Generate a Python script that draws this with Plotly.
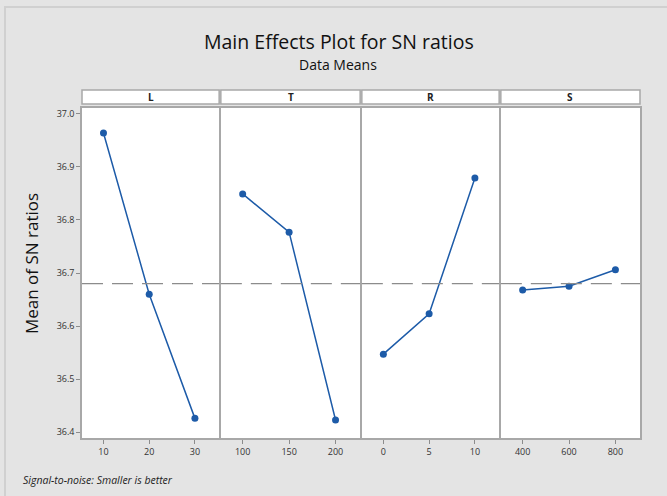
import plotly.graph_objects as go

factors = ["L", "T", "R", "S"]
levels = [["10", "20", "30"], ["100", "150", "200"], ["0", "5", "10"], ["400", "600", "800"]]
means = [
    [36.964, 36.660, 36.426],
    [36.849, 36.777, 36.423],
    [36.547, 36.623, 36.879],
    [36.668, 36.675, 36.706],
]
grand_mean = 36.680
y_ticks = [36.4, 36.5, 36.6, 36.7, 36.8, 36.9, 37.0]
y_ticktext = ["36.4", "36.5", "36.6", "36.7", "36.8", "36.9", "37.0"]

W, H = 667, 496
ml, mr, mt, mb = 82, 27, 90, 58
pw = W - ml - mr
ph = H - mt - mb
plot_top = (438 - 108) / ph
strip_bot = (438 - 104) / ph


def px_x(p):
    return (p - ml) / pw


def px_y(p):
    return (H - mb - p) / ph


blue = "#1d5ba8"
grid_grey = "#a8a8a8"
fig = go.Figure()
bounds = [0, 138 / pw, 279 / pw, 418 / pw, 1.0]

# outer frame (border only)
fig.add_shape(type="rect", xref="paper", yref="paper",
              x0=px_x(5), x1=px_x(675), y0=px_y(7), y1=px_y(505),
              line=dict(color="#d0d0d0", width=2), layer="below")

for i, f in enumerate(factors):
    ax = "" if i == 0 else str(i + 1)
    fig.add_trace(go.Scatter(
        x=levels[i], y=means[i], mode="lines+markers",
        line=dict(color=blue, width=1.5),
        marker=dict(color=blue, size=7),
        xaxis="x" + ax, yaxis="y" + ax, showlegend=False,
        hoverinfo="x+y",
    ))
    d0 = bounds[i] + (0.0015 if i > 0 else 0)
    d1 = bounds[i + 1] - (0.0015 if i < 3 else 0)
    fig.add_shape(type="line", xref="paper", yref="y" + ax,
                  x0=d0, x1=d1, y0=grand_mean, y1=grand_mean,
                  line=dict(color="#8c8c8c", width=1.2, dash="21px,9px"), layer="above")
    fig.layout["xaxis" + ax] = dict(
        domain=[d0, d1], anchor="y" + ax, type="category",
        categoryorder="array", categoryarray=levels[i],
        range=[-0.47, 2.53], showline=True, linecolor=grid_grey, linewidth=1.5,
        mirror=True, ticks="outside", ticklen=4, tickcolor="#8c8c8c",
        showgrid=False, zeroline=False,
        tickfont=dict(size=9, color="#333", family="Open Sans"),
        fixedrange=True,
    )
    fig.layout["yaxis" + ax] = dict(
        domain=[0, plot_top], anchor="x" + ax,
        range=[36.389, 37.011], tickvals=y_ticks, ticktext=y_ticktext,
        showticklabels=(i == 0), ticks="outside" if i == 0 else "",
        ticklen=4, tickcolor="#8c8c8c",
        showline=True, linecolor=grid_grey, linewidth=1.5, mirror=True,
        showgrid=False, zeroline=False,
        tickfont=dict(size=9, color="#333", family="Open Sans"),
        fixedrange=True,
    )
    fig.add_shape(type="rect", xref="paper", yref="paper",
                  x0=d0, x1=d1, y0=strip_bot, y1=1.0,
                  fillcolor="white", line=dict(color=grid_grey, width=1.5), layer="below")
    fig.add_annotation(text="<b>%s</b>" % f, xref="paper", yref="paper",
                       x=(d0 + d1) / 2, y=(strip_bot + 1.0) / 2, showarrow=False,
                       font=dict(size=10, color="#222", family="Open Sans"),
                       xanchor="center", yanchor="middle")

fig.add_annotation(text="Mean of SN ratios", xref="paper", yref="paper",
                   x=px_x(31), y=px_y(264), showarrow=False, textangle=-90,
                   font=dict(size=17, color="#111", family="Open Sans"),
                   xanchor="center", yanchor="middle")
fig.add_annotation(text="Main Effects Plot for SN ratios", xref="paper", yref="paper",
                   x=px_x(339), y=px_y(42), showarrow=False,
                   font=dict(size=19.5, color="#111", family="Open Sans"),
                   xanchor="center", yanchor="middle")
fig.add_annotation(text="Data Means", xref="paper", yref="paper",
                   x=px_x(338), y=px_y(65), showarrow=False,
                   font=dict(size=14, color="#111", family="Open Sans"),
                   xanchor="center", yanchor="middle")
fig.add_annotation(text="<i>Signal-to-noise: Smaller is better</i>", xref="paper", yref="paper",
                   x=px_x(21), y=px_y(480), showarrow=False,
                   font=dict(size=10.5, color="#222", family="Open Sans"),
                   xanchor="left", yanchor="middle")

fig.update_layout(
    width=W, height=H, margin=dict(l=ml, r=mr, t=mt, b=mb),
    paper_bgcolor="#e4e4e4", plot_bgcolor="white",
    font=dict(family="Open Sans"),
)
fig.write_html("out.html", config={"displayModeBar": False},
               post_script="document.body.style.margin='0';document.body.style.background='#e4e4e4';")
